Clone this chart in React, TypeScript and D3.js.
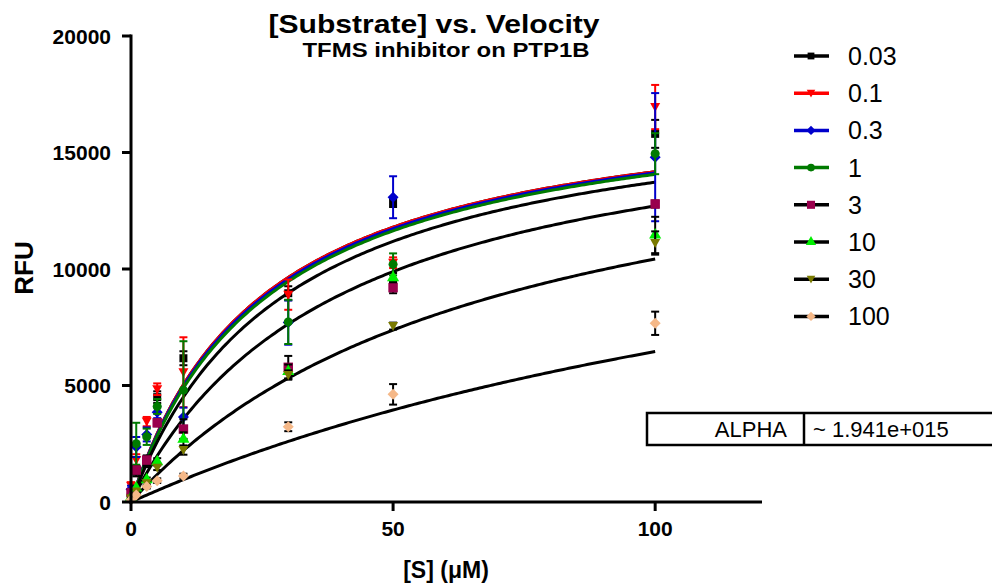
import React from "react";
import * as d3 from "d3";

// substrate concentrations [S] in µM
const substrate = [0, 1, 3, 5, 10, 30, 50, 100];

// inhibitor concentrations (legend)
const inhibitors = ["0.03", "0.1", "0.3", "1", "3", "10", "30", "100"];

// mean RFU per inhibitor, one entry per substrate concentration
const mean003 = [400, 1300, 1700, 4500, 6170, 8960, 12860, 15800];
const mean01 = [700, 1800, 3450, 4840, 5570, 8900, 10270, 16950];
const mean03 = [550, 2360, 2900, 3850, 3650, 7700, 13080, 14800];
const mean1 = [300, 2500, 2800, 4100, 4800, 7730, 10200, 14950];
const mean3 = [400, 1370, 1800, 3400, 3130, 5780, 9200, 12790];
const mean10 = [200, 600, 950, 1730, 2690, 5600, 9630, 11460];
const mean30 = [150, 450, 800, 1470, 2230, 5450, 7550, 11115];
const mean100 = [100, 300, 660, 915, 1115, 3230, 4620, 7670];

// SEM
const sem003 = [100, 200, 200, 250, 300, 300, 200, 600];
const sem01 = [150, 250, 200, 250, 1500, 650, 230, 950];
const sem03 = [150, 430, 300, 250, 400, 950, 900, 2750];
const sem1 = [100, 900, 350, 320, 2100, 950, 470, 880];
const sem3 = [80, 150, 200, 150, 420, 490, 240, 150];
const sem10 = [50, 100, 100, 150, 300, 300, 200, 780];
const sem30 = [50, 100, 100, 100, 200, 200, 150, 500];
const sem100 = [50, 50, 80, 100, 100, 190, 440, 500];

// fitted mixed-model curve parameters (apparent Vmax, Km)
const vmaxFit = [17760, 17760, 17760, 17760, 17760, 17760, 17760, 17760];
const kmFit = [25.3, 25.3, 25.7, 26.3, 29.4, 39.8, 70.3, 175];

const means = [mean003, mean01, mean03, mean1, mean3, mean10, mean30, mean100];
const sems = [sem003, sem01, sem03, sem1, sem3, sem10, sem30, sem100];

const markerColors = ["#000000", "#ff0000", "#0000cc", "#007a00", "#99004d", "#00ee00", "#7a7a00", "#f5b888"];
const lineColors = ["#000000", "#ff0000", "#0000cc", "#007a00", "#000000", "#000000", "#000000", "#000000"];
const markerShapes = ["square", "down", "diamond", "circle", "bigsquare", "up", "down", "diamond"];

const yTicks = [0, 5000, 10000, 15000, 20000];
const xTicks = [0, 50, 100];

const font = "'Liberation Sans', Arial, sans-serif";

function markerPath(shape: string) {
  switch (shape) {
    case "square":
      return d3.symbol(d3.symbolSquare, 64)()!;
    case "bigsquare":
      return d3.symbol(d3.symbolSquare, 90)()!;
    case "circle":
      return d3.symbol(d3.symbolCircle, 64)()!;
    case "diamond":
      return "M0,-5.5L5.5,0L0,5.5L-5.5,0Z";
    case "up":
      return d3.symbol(d3.symbolTriangle, 64)()!;
    case "down":
      return "M-5,-4L5,-4L0,5Z";
    default:
      return d3.symbol(d3.symbolSquare, 64)()!;
  }
}

export default function App() {
  const x = d3.scaleLinear().domain([0, 120]).range([131, 760]);
  const y = d3.scaleLinear().domain([0, 20000]).range([502, 36]);

  const samples = d3.range(0, 100.01, 0.5);

  return (
    <svg width={992} height={585} style={{ position: "absolute", left: 0, top: 0, background: "#fff" }} fontFamily={font}>
      {/* title */}
      <text x={434} y={33} textAnchor="middle" fontSize={25} fontWeight="bold" textLength={331} lengthAdjust="spacingAndGlyphs">
        [Substrate] vs. Velocity
      </text>
      <text x={446} y={57} textAnchor="middle" fontSize={19.5} fontWeight="bold" textLength={287} lengthAdjust="spacingAndGlyphs">
        TFMS inhibitor on PTP1B
      </text>

      {/* fitted curves */}
      {inhibitors.map((lab, i) => (
        <path
          key={"c" + lab}
          d={
            d3
              .line<number>()
              .x((s) => x(s))
              .y((s) => y((vmaxFit[i] * s) / (kmFit[i] + s)))(samples) || ""
          }
          fill="none"
          stroke={lineColors[i]}
          strokeWidth={3}
        />
      ))}

      {/* error bars and points */}
      {inhibitors.map((lab, i) => (
        <g key={"p" + lab}>
          {substrate.map((s, j) => {
            const m = means[i][j];
            const e = sems[i][j];
            const cx = x(s);
            return (
              <g key={j}>
                <line x1={cx} x2={cx} y1={y(m - e)} y2={y(m + e)} stroke={lineColors[i]} strokeWidth={2} />
                <line x1={cx - 4} x2={cx + 4} y1={y(m + e)} y2={y(m + e)} stroke={lineColors[i]} strokeWidth={2} />
                <line x1={cx - 4} x2={cx + 4} y1={y(m - e)} y2={y(m - e)} stroke={lineColors[i]} strokeWidth={2} />
                <path d={markerPath(markerShapes[i])} transform={`translate(${cx},${y(m)})`} fill={markerColors[i]} />
              </g>
            );
          })}
        </g>
      ))}

      {/* axes */}
      <line x1={131} x2={131} y1={y(20000) - 1.5} y2={503.5} stroke="#000" strokeWidth={3} />
      <line x1={129.5} x2={762} y1={502} y2={502} stroke="#000" strokeWidth={3} />
      {yTicks.map((t) => (
        <g key={"y" + t}>
          <line x1={122} x2={131} y1={y(t)} y2={y(t)} stroke="#000" strokeWidth={3} />
          <text x={111} y={y(t)} dy="0.36em" textAnchor="end" fontSize={21} fontWeight="bold">
            {t}
          </text>
        </g>
      ))}
      {xTicks.map((t) => (
        <g key={"x" + t}>
          <line x1={x(t)} x2={x(t)} y1={502} y2={511} stroke="#000" strokeWidth={3} />
          <text x={x(t)} y={536} textAnchor="middle" fontSize={21} fontWeight="bold">
            {t}
          </text>
        </g>
      ))}
      <text x={446} y={578} textAnchor="middle" fontSize={23} fontWeight="bold">
        [S] (μM)
      </text>
      <text transform="translate(33,268) rotate(-90)" textAnchor="middle" fontSize={26} fontWeight="bold">
        RFU
      </text>

      {/* legend */}
      {inhibitors.map((lab, i) => {
        const ly = 56 + i * 37.2;
        return (
          <g key={"l" + lab}>
            <line x1={794} x2={829} y1={ly} y2={ly} stroke={lineColors[i]} strokeWidth={3.5} />
            <path d={markerPath(markerShapes[i])} transform={`translate(811,${ly}) scale(0.85)`} fill={markerColors[i]} />
            <text x={848} y={ly} dy="0.36em" fontSize={25}>
              {lab}
            </text>
          </g>
        );
      })}

      {/* parameter table */}
      <rect x={647} y={413} width={360} height={32} fill="#fff" stroke="#000" strokeWidth={2.5} />
      <line x1={804} x2={804} y1={413} y2={445} stroke="#000" strokeWidth={2.5} />
      <text x={787} y={437} textAnchor="end" fontSize={22}>
        ALPHA
      </text>
      <text x={813} y={437} fontSize={22}>
        ~ 1.941e+015
      </text>
    </svg>
  );
}
